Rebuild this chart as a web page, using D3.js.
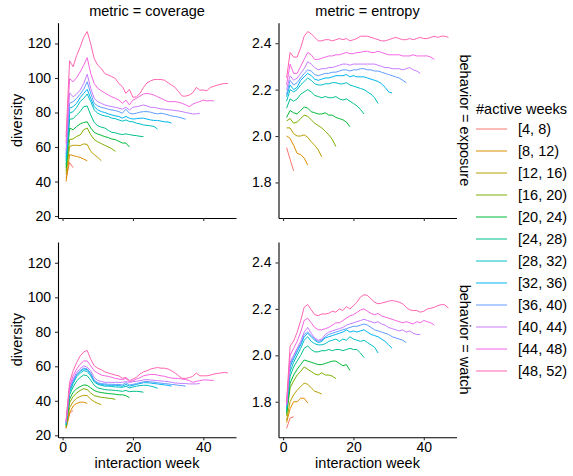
<!DOCTYPE html>
<html>
<head>
<meta charset="utf-8">
<script src="https://cdn.jsdelivr.net/npm/d3@7"></script>
<style>
  body { margin: 0; background: #fff; }
  text { font-family: "Liberation Sans", Arial, sans-serif; fill: #000; }
</style>
</head>
<body>
<div id="chart-Div"></div>
<script>

let width = 573, height = 476;

// facet labels and legend categories
const metrics = ['coverage', 'entropy'];
const behaviors = ['exposure', 'watch'];
const activeWeeks = ['[4, 8)', '[8, 12)', '[12, 16)', '[16, 20)', '[20, 24)', '[24, 28)',
    '[28, 32)', '[32, 36)', '[36, 40)', '[40, 44)', '[44, 48)', '[48, 52)'];
const xTicks = [0, 20, 40];
const coverageTicks = [20, 40, 60, 80, 100, 120];
const entropyTicks = [1.8, 2.0, 2.2, 2.4];

// diversity per interaction week (week 1, 2, ...), one row per #active weeks group
const coverageExposure = [
    [42, 51, 48],
    [40, 55.6, 55, 54.5, 54, 53, 52],
    [44, 60.4, 61, 61, 60.8, 61.8, 61.5, 57.5, 55.6, 54, 52],
    [46, 64.3, 64.7, 66.1, 67, 70, 71, 67.1, 64.3, 63, 62, 61, 60, 59, 57.5],
    [48, 71, 70, 71.9, 73.4, 74.2, 74.6, 71, 68.5, 67.5, 66.8, 66, 65.5, 64.6, 64.3, 63.3, 62.3, 62.3, 60],
    [50, 76.1, 76.4, 78.6, 80.5, 83.4, 83.8, 78.6, 74.2, 72.3, 71.5, 71, 69.6, 68.5, 68.2, 67.6, 67.2, 67.6, 67.2, 66.8, 66.6, 66.2, 66],
    [52, 79.6, 80.5, 83, 86.3, 88.2, 90.7, 86.3, 81.5, 79.6, 78.6, 78, 77.7, 76.7, 76.4, 75.7, 75, 75.7, 74.8, 74.6, 73.8, 73.4, 72.8, 72.5, 72.3, 71.9, 70.4],
    [54, 82.5, 83.4, 85.3, 88.6, 91.1, 93.4, 88.2, 83.4, 81.5, 80.5, 80, 79.2, 78.6, 78, 77.7, 76.7, 77.7, 76.7, 76.2, 76.4, 76.7, 76.7, 76.2, 75.7, 75.4, 75.4, 75, 74.6, 74.5, 73.8],
    [56, 85.3, 86.3, 88.2, 90.7, 93.4, 97.8, 91.1, 85.3, 83.8, 83, 82.5, 81.9, 81.5, 81.1, 80.5, 79.6, 81.9, 79.6, 79.2, 79.6, 80.2, 80.5, 80.5, 80.2, 79.6, 79.2, 79.6, 79.2, 78.6, 78, 77.7, 77.3, 76.7, 76.1],
    [58, 91.4, 89.1, 90.7, 93, 96.8, 102.2, 94, 88.2, 86.3, 85.3, 84.4, 83.8, 83.4, 83, 82.5, 81.9, 83, 81.5, 83, 83.4, 83.8, 84.4, 83.8, 83, 83, 82.5, 82.1, 81.9, 81.5, 81.5, 81.1, 80.9, 80.5, 80, 79.6, 79.2, 79.2, 79.6],
    [62, 99.7, 97.8, 100.2, 103.5, 107.4, 111.8, 102.6, 96.8, 94, 92.6, 91.4, 90.1, 89.1, 88.2, 87.2, 85.3, 87.2, 84.4, 87.2, 88.2, 89.5, 90.7, 91.1, 90.7, 90.1, 89.1, 88.2, 87.2, 86.3, 86.3, 86.3, 85.9, 85.3, 84.4, 83.4, 84.8, 85.7, 86.3, 87.2, 86.7, 86.9, 86.7],
    [66, 110, 106.5, 113, 117.9, 123.6, 126.9, 119.8, 111.2, 107.4, 105.5, 102.6, 101.7, 100.8, 99.7, 96.8, 95, 91.1, 93.4, 88.8, 89.1, 91.1, 94.5, 97.2, 98.3, 99.1, 99.1, 99.1, 98.7, 97.2, 95.9, 94.5, 92, 89.5, 89.5, 90.1, 91.4, 94.5, 93, 93, 92.6, 94.5, 95.2, 95.9, 96.4, 96.8, 96.8]
];

const entropyExposure = [
    [1.95, 1.90, 1.85],
    [2.0, 1.99, 1.96, 1.925, 1.92, 1.905, 1.875],
    [2.035, 2.035, 2.01, 2.0, 2.0, 2.005, 1.995, 1.975, 1.96, 1.94, 1.91],
    [2.065, 2.075, 2.055, 2.06, 2.075, 2.09, 2.085, 2.07, 2.055, 2.045, 2.035, 2.02, 2.005, 1.985, 1.955],
    [2.08, 2.11, 2.10, 2.095, 2.11, 2.125, 2.12, 2.105, 2.10, 2.095, 2.095, 2.10, 2.09, 2.09, 2.08, 2.075, 2.07, 2.06, 2.04],
    [2.12, 2.16, 2.15, 2.16, 2.18, 2.19, 2.20, 2.19, 2.175, 2.17, 2.165, 2.17, 2.165, 2.165, 2.17, 2.16, 2.155, 2.16, 2.15, 2.14, 2.13, 2.115, 2.095],
    [2.15, 2.20, 2.19, 2.20, 2.22, 2.235, 2.25, 2.24, 2.225, 2.22, 2.22, 2.225, 2.225, 2.23, 2.23, 2.225, 2.225, 2.23, 2.22, 2.215, 2.21, 2.205, 2.20, 2.19, 2.18, 2.165, 2.14],
    [2.17, 2.22, 2.20, 2.21, 2.24, 2.255, 2.27, 2.26, 2.245, 2.24, 2.245, 2.25, 2.25, 2.255, 2.26, 2.26, 2.26, 2.265, 2.255, 2.26, 2.255, 2.255, 2.255, 2.25, 2.245, 2.24, 2.235, 2.225, 2.21, 2.19, 2.185],
    [2.18, 2.24, 2.22, 2.23, 2.25, 2.27, 2.285, 2.28, 2.265, 2.26, 2.265, 2.27, 2.27, 2.275, 2.275, 2.28, 2.285, 2.285, 2.28, 2.285, 2.285, 2.29, 2.29, 2.285, 2.285, 2.28, 2.28, 2.275, 2.27, 2.265, 2.26, 2.255, 2.25, 2.24, 2.23],
    [2.20, 2.26, 2.24, 2.25, 2.27, 2.29, 2.32, 2.31, 2.295, 2.285, 2.29, 2.29, 2.295, 2.295, 2.30, 2.305, 2.31, 2.31, 2.305, 2.31, 2.31, 2.31, 2.31, 2.31, 2.31, 2.31, 2.305, 2.30, 2.295, 2.295, 2.29, 2.29, 2.29, 2.285, 2.29, 2.295, 2.285, 2.28, 2.27],
    [2.22, 2.31, 2.27, 2.27, 2.30, 2.33, 2.36, 2.35, 2.33, 2.33, 2.335, 2.34, 2.345, 2.345, 2.35, 2.35, 2.355, 2.36, 2.355, 2.355, 2.36, 2.36, 2.365, 2.365, 2.36, 2.36, 2.365, 2.36, 2.355, 2.35, 2.35, 2.35, 2.35, 2.345, 2.345, 2.345, 2.35, 2.345, 2.345, 2.345, 2.345, 2.34, 2.33],
    [2.25, 2.36, 2.34, 2.34, 2.38, 2.43, 2.45, 2.44, 2.425, 2.41, 2.41, 2.415, 2.415, 2.41, 2.415, 2.42, 2.415, 2.42, 2.41, 2.415, 2.42, 2.43, 2.43, 2.43, 2.425, 2.42, 2.415, 2.41, 2.41, 2.415, 2.42, 2.425, 2.42, 2.415, 2.415, 2.42, 2.415, 2.42, 2.425, 2.42, 2.42, 2.425, 2.43, 2.425, 2.43, 2.43, 2.425]
];

const coverageWatch = [
    [24.5, 32.5, 34.5],
    [24, 33, 37, 38.5, 39.2, 39.2, 38.5],
    [24.5, 36, 39.5, 41.5, 42.5, 43.2, 43, 41, 39.5, 38.5, 37.8],
    [25, 39, 42.5, 44.5, 46, 47, 46.5, 44.5, 43, 42.5, 42, 41.8, 41.5, 41.3, 40.8],
    [25.5, 41, 45, 47, 48.2, 49.2, 49, 47.5, 46, 45.2, 44.8, 44.5, 44.2, 44, 43.8, 43.5, 43.5, 43, 41.8],
    [26, 43.5, 48, 51.5, 53.5, 55, 54.5, 52, 49, 47.5, 47, 46.5, 46.3, 46.2, 46, 45.8, 45.5, 46, 45.3, 45.5, 45.5, 45.3, 45],
    [26.5, 45, 50, 54, 56, 57.5, 57, 54.5, 51, 49.5, 49, 48.5, 48.5, 48.3, 48, 48, 47.8, 48.5, 47.5, 48, 48.5, 48.8, 49, 49, 48.5, 48, 47.3],
    [27, 46, 51, 55, 57, 58.5, 58, 55.5, 51.5, 50, 49.5, 49.2, 49, 49, 49, 48.8, 48.5, 49.5, 48.5, 49, 49.5, 50, 50.5, 50.5, 50.3, 50, 49.8, 49.5, 49.2, 49, 48.5],
    [27, 47, 51.5, 55.5, 57.5, 59, 58.5, 56, 52, 50.5, 50, 49.8, 49.6, 49.6, 49.5, 49.5, 49.2, 50.5, 49.2, 49.5, 50, 50.5, 51, 51.2, 51, 50.8, 50.5, 50.2, 50, 49.8, 49.5, 49.3, 49, 48.8, 48.5],
    [27.5, 47.9, 52.6, 56.5, 58.7, 60.3, 59.5, 57.4, 53.6, 51.7, 51.3, 50.7, 50.7, 50.7, 50.7, 50.7, 50.7, 51.1, 50.7, 51.1, 51.3, 51.7, 52.1, 52.3, 52.1, 51.9, 51.7, 51.5, 51.3, 51.1, 50.7, 50.3, 50.2, 50, 50, 49.8, 49.8, 49.8, 50],
    [28, 48.8, 54.5, 58.4, 61.2, 63.1, 63.1, 60.3, 57.4, 56.1, 54.9, 54.5, 54.2, 53.6, 53, 52.6, 52.3, 53, 51.1, 51.7, 52.6, 53.4, 54.5, 54.9, 55.3, 55.3, 54.9, 54.5, 54.2, 53.6, 53.2, 53, 53, 52.6, 52.3, 51.7, 50.7, 51.3, 51.7, 52.1, 52.1, 51.9, 51.9],
    [28.5, 50.7, 57.4, 62.2, 66, 68.3, 69.2, 64.1, 60.3, 58.9, 58, 56.8, 56.1, 55.5, 54.9, 54.5, 53, 53.6, 51.7, 52.6, 53.6, 55.5, 56.8, 57.4, 58.4, 58.9, 59.3, 58.9, 58.9, 58.4, 57.4, 56.1, 54.5, 53, 53, 53.4, 54.2, 56.1, 54.5, 54.5, 54.5, 54.9, 55.5, 55.9, 56.1, 56.5, 56.1]
];

const entropyWatch = [
    [1.685, 1.73, 1.735],
    [1.71, 1.77, 1.80, 1.80, 1.815, 1.815, 1.795],
    [1.72, 1.80, 1.83, 1.85, 1.865, 1.88, 1.875, 1.86, 1.845, 1.84, 1.833],
    [1.74, 1.86, 1.89, 1.915, 1.93, 1.95, 1.94, 1.93, 1.92, 1.915, 1.925, 1.915, 1.915, 1.91, 1.90],
    [1.75, 1.88, 1.915, 1.94, 1.96, 1.98, 1.975, 1.97, 1.965, 1.96, 1.96, 1.965, 1.97, 1.975, 1.975, 1.965, 1.955, 1.96, 1.935],
    [1.76, 1.91, 1.95, 1.975, 2.0, 2.03, 2.04, 2.025, 2.015, 2.015, 2.02, 2.02, 2.025, 2.02, 2.025, 2.025, 2.02, 2.025, 2.03, 2.025, 2.025, 2.01, 1.99],
    [1.77, 1.93, 1.97, 2.0, 2.03, 2.065, 2.08, 2.06, 2.05, 2.045, 2.045, 2.05, 2.06, 2.065, 2.07, 2.06, 2.07, 2.065, 2.08, 2.07, 2.065, 2.06, 2.065, 2.055, 2.045, 2.035, 2.01],
    [1.78, 1.95, 1.985, 2.015, 2.045, 2.08, 2.095, 2.08, 2.065, 2.055, 2.06, 2.075, 2.08, 2.085, 2.09, 2.095, 2.10, 2.11, 2.10, 2.105, 2.10, 2.105, 2.11, 2.10, 2.09, 2.085, 2.08, 2.07, 2.06, 2.045, 2.03],
    [1.79, 1.96, 1.995, 2.025, 2.05, 2.09, 2.10, 2.085, 2.07, 2.06, 2.065, 2.08, 2.09, 2.095, 2.10, 2.105, 2.11, 2.115, 2.12, 2.125, 2.125, 2.13, 2.135, 2.13, 2.12, 2.11, 2.105, 2.10, 2.095, 2.09, 2.08, 2.075, 2.07, 2.065, 2.055],
    [1.78, 1.97, 2.0, 2.03, 2.06, 2.10, 2.12, 2.095, 2.075, 2.065, 2.07, 2.09, 2.10, 2.105, 2.11, 2.115, 2.12, 2.13, 2.135, 2.14, 2.145, 2.15, 2.155, 2.15, 2.145, 2.14, 2.145, 2.135, 2.13, 2.12, 2.115, 2.11, 2.105, 2.11, 2.10, 2.105, 2.095, 2.09, 2.09],
    [1.79, 2.0, 2.03, 2.06, 2.10, 2.15, 2.16, 2.14, 2.12, 2.11, 2.11, 2.115, 2.12, 2.13, 2.14, 2.14, 2.15, 2.16, 2.17, 2.175, 2.185, 2.195, 2.2, 2.19, 2.18, 2.175, 2.18, 2.17, 2.165, 2.16, 2.155, 2.15, 2.145, 2.14, 2.145, 2.14, 2.135, 2.145, 2.14, 2.15, 2.145, 2.14, 2.13],
    [1.80, 2.04, 2.062, 2.099, 2.149, 2.207, 2.219, 2.196, 2.175, 2.171, 2.178, 2.178, 2.181, 2.19, 2.186, 2.2, 2.193, 2.21, 2.2, 2.214, 2.229, 2.251, 2.261, 2.258, 2.243, 2.229, 2.222, 2.225, 2.229, 2.233, 2.236, 2.233, 2.229, 2.222, 2.207, 2.196, 2.193, 2.193, 2.186, 2.19, 2.2, 2.203, 2.207, 2.214, 2.219, 2.217, 2.203]
];

// ggplot default hue palette for 12 levels
const colors = ['#F8766D', '#DE8C00', '#B79F00', '#7CAE00', '#00BA38', '#00C08B',
    '#00BFC4', '#00B4F0', '#619CFF', '#C77CFF', '#F564E3', '#FF64B0'];

let svg = d3.select('#chart-Div')
    .append('svg')
    .attr('width', width)
    .attr('height', height);

// panel pixel boxes
let colRange = [[58, 236], [278.5, 456.5]];
let rowRange = [[22.7, 218], [242, 437.3]];

// expand a [min,max] extent by 5% like ggplot does
function expand(ext) {
    let pad = (ext[1] - ext[0]) * 0.05;
    return [ext[0] - pad, ext[1] + pad];
}

let maxWeeks = d3.max(coverageExposure, d => d.length);
let xDomain = expand([1, maxWeeks]);

let yDomains = {
    coverage: expand(d3.extent(coverageExposure.concat(coverageWatch).flat())),
    entropy: expand(d3.extent(entropyExposure.concat(entropyWatch).flat()))
};
let yTicks = { coverage: coverageTicks, entropy: entropyTicks };

let panels = [
    { metric: 'coverage', behavior: 'exposure', series: coverageExposure },
    { metric: 'entropy', behavior: 'exposure', series: entropyExposure },
    { metric: 'coverage', behavior: 'watch', series: coverageWatch },
    { metric: 'entropy', behavior: 'watch', series: entropyWatch }
];

panels.forEach(p => {
    let col = metrics.indexOf(p.metric);
    let row = behaviors.indexOf(p.behavior);

    let xScale = d3.scaleLinear().domain(xDomain).range(colRange[col]);
    let yScale = d3.scaleLinear().domain(yDomains[p.metric]).range([rowRange[row][1], rowRange[row][0]]);

    let g = svg.append('g');

    let lineGen = d3.line()
        .x((d, i) => xScale(i + 1))
        .y(d => yScale(d));

    g.selectAll('path.series')
        .data(p.series)
        .join('path')
        .attr('class', 'series')
        .attr('d', d => lineGen(d))
        .attr('fill', 'none')
        .attr('stroke', (d, i) => colors[i])
        .attr('stroke-width', 1)
        .attr('stroke-linejoin', 'round');

    // y axis
    let yAxis = d3.axisLeft(yScale)
        .tickValues(yTicks[p.metric])
        .tickFormat(p.metric === 'entropy' ? d3.format('.1f') : d3.format('d'))
        .tickSizeInner(3).tickSizeOuter(0).tickPadding(4);
    let ya = g.append('g')
        .attr('transform', `translate(${colRange[col][0]},0)`)
        .call(yAxis);

    // x axis, labels only on the bottom row
    let xAxis = d3.axisBottom(xScale)
        .tickValues(xTicks)
        .tickSizeInner(3).tickSizeOuter(0).tickPadding(2);
    if (row === 0) xAxis.tickFormat('');
    let xa = g.append('g')
        .attr('transform', `translate(0,${rowRange[row][1]})`)
        .call(xAxis);

    [ya, xa].forEach(a => {
        a.select('.domain').attr('stroke', '#000').attr('stroke-width', 1.1);
        a.selectAll('.tick line').attr('stroke', '#333').attr('stroke-width', 1.1);
        a.selectAll('.tick text').attr('font-size', 14).attr('fill', '#000')
            .attr('font-family', '"Liberation Sans", Arial, sans-serif');
    });
});

// column strips
metrics.forEach((m, i) => {
    svg.append('text')
        .attr('x', (colRange[i][0] + colRange[i][1]) / 2)
        .attr('y', 16)
        .attr('text-anchor', 'middle')
        .attr('font-size', 14.5)
        .text('metric = ' + m);

    svg.append('text')
        .attr('x', (colRange[i][0] + colRange[i][1]) / 2)
        .attr('y', 468)
        .attr('text-anchor', 'middle')
        .attr('font-size', 14.5)
        .text('interaction week');
});

// row strips and y titles
behaviors.forEach((b, i) => {
    let cy = (rowRange[i][0] + rowRange[i][1]) / 2;
    svg.append('text')
        .attr('transform', `translate(465,${cy}) rotate(90)`)
        .attr('text-anchor', 'middle')
        .attr('dominant-baseline', 'central')
        .attr('font-size', 14.5)
        .text('behavior = ' + b);

    svg.append('text')
        .attr('transform', `translate(17,${cy}) rotate(-90)`)
        .attr('text-anchor', 'middle')
        .attr('dominant-baseline', 'central')
        .attr('font-size', 14.5)
        .text('diversity');
});

// legend
let legend = svg.append('g');
legend.append('text')
    .attr('x', 476)
    .attr('y', 113.5)
    .attr('font-size', 14.5)
    .text('#active weeks');

let items = legend.selectAll('g.item')
    .data(activeWeeks)
    .join('g')
    .attr('class', 'item')
    .attr('transform', (d, i) => `translate(0,${129 + i * 22})`);

items.append('line')
    .attr('x1', 476).attr('x2', 507)
    .attr('stroke', (d, i) => colors[i])
    .attr('stroke-width', 1);

items.append('text')
    .attr('x', 518)
    .attr('dominant-baseline', 'central')
    .attr('font-size', 14.5)
    .text(d => d);

</script>
</body>
</html>
